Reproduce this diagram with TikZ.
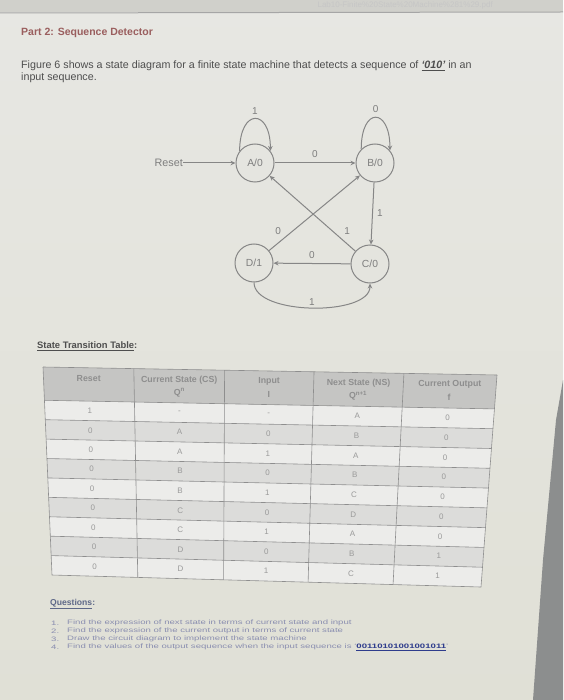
\documentclass[tikz,border=0pt]{standalone}
\usepackage{fontspec}
\setmainfont{Liberation Sans}
\usetikzlibrary{arrows.meta,calc}
\definecolor{paper}{HTML}{E7E7E3}
\definecolor{paperlow}{HTML}{E0E0D6}
\definecolor{stripgray}{HTML}{D0D0CB}
\definecolor{edgegray}{HTML}{8C8E8E}
\definecolor{titlered}{HTML}{9A5E5E}
\definecolor{bodytext}{HTML}{4E4E4E}
\definecolor{diagline}{HTML}{868686}
\definecolor{diagtext}{HTML}{7E7E7E}
\definecolor{headfill}{HTML}{C5C5C3}
\definecolor{headtext}{HTML}{8E8E8E}
\definecolor{rowwhite}{HTML}{ECECEA}
\definecolor{rowgray}{HTML}{DCDCDA}
\definecolor{gridline}{HTML}{8E8E8E}
\definecolor{celltext}{HTML}{9A9A9A}
\definecolor{qtext}{HTML}{8A8EB0}
\definecolor{qhead}{HTML}{5E6888}
\definecolor{qseq}{HTML}{2E3C8C}
\newcommand{\qstretch}[1]{\scalebox{1.2}[0.8]{#1}}
\begin{document}
\begin{tikzpicture}[x=1pt,y=-1pt,
  stnode/.style={circle,draw=diagline,line width=1pt,minimum size=38pt,inner sep=0pt,
    text=diagtext,font=\fontsize{10.3}{11}\selectfont},
  lbl/.style={text=diagtext,font=\fontsize{10}{11}\selectfont,inner sep=2pt},
  arr/.style={draw=diagline,line width=1pt,-{Stealth[length=5pt,width=4.5pt]}},
  gridl/.style={draw=gridline,line width=0.6pt},
  cell/.style={text=celltext,font=\fontsize{8}{9}\selectfont,inner sep=0pt},
  hcell/.style={text=headtext,font=\bfseries\fontsize{8.8}{9}\selectfont,inner sep=0pt},
  qitem/.style={text=qtext,font=\fontsize{8}{9}\selectfont,anchor=west,inner sep=0pt}]
\useasboundingbox (0,0) rectangle (563,700);
% paper
\shade[top color=paper,bottom color=paperlow] (0,0) rectangle (563,700);
\fill[stripgray] (0,0) rectangle (563,12);
\draw[color=gray!70,line width=1pt] (0,13) -- (563,12);
\node[anchor=east,text=gray!45,font=\fontsize{8}{9}\selectfont,inner sep=0pt] (urltext) at (493,5.5) {Lab10-Finite\%20State\%20Machine\%281\%29.pdf};
\fill[edgegray] (563,380) -- (556,420) -- (543,560) -- (533,700) -- (563,700) -- cycle;
% title and intro
\node[anchor=west,inner sep=0pt,text=titlered,font=\bfseries\fontsize{10.5}{12}\selectfont] (title) at (21,33) {Part 2: Sequence Detector};
\node[anchor=west,inner sep=0pt,text=bodytext,font=\fontsize{10.7}{12}\selectfont] (p1) at (21,66) {Figure 6 shows a state diagram for a finite state machine that detects a sequence of \textbf{\textit{\underline{‘010’}}} in an};
\node[anchor=west,inner sep=0pt,text=bodytext,font=\fontsize{10.7}{12}\selectfont] (p2) at (21,78) {input sequence.};
% state diagram
\node[stnode] (A) at (255,163) {A/0};
\node[stnode] (B) at (375,163) {B/0};
\node[stnode] (D) at (254,263) {D/1};
\node[stnode] (C) at (370,264) {C/0};
\node[lbl,anchor=east,inner sep=0pt,font=\fontsize{10.8}{12}\selectfont] (reset) at (183,163) {Reset};
\draw[arr] (reset) -- (A);
\draw[arr] (A.142) .. controls +(0,-43) and +(0,-43) .. (A.38) node[lbl,pos=0.5,above=2pt] {1};
\draw[arr] (B.135) .. controls +(0,-43) and +(0,-43) .. (B.40) node[lbl,pos=0.5,above=2pt] {0};
\draw[arr] (A) -- node[lbl,above=3pt] {0} (B);
\draw[arr] (B) -- node[lbl,right=2pt] {1} (C);
\draw[arr] (C) -- node[lbl,above=2pt] {0} (D);
\draw[arr] (C) -- node[lbl,pos=0.17,above right=1pt] {1} (A);
\draw[arr] (D) -- node[lbl,pos=0.17,above left=1pt] {0} (B);
\draw[arr] (D.south) .. controls +(0,33) and +(0,33) .. (C.south) node[lbl,pos=0.5,above=0pt] {1};
% table heading
\node[anchor=west,inner sep=0pt,text=bodytext,font=\bfseries\fontsize{9.4}{11}\selectfont] (ttitle) at (37,346) {\underline{State Transition Table}:};
% table geometry
\coordinate (TL) at (43,367);
\coordinate (TR) at (497,375);
\coordinate (BL) at (52,575);
\coordinate (BR) at (481,587);
\foreach \k in {0,...,10} {
  \pgfmathsetmacro\vv{\k==0 ? 0 : 0.16+(\k-1)*0.0933333}
  \coordinate (L\k) at ($(TL)!\vv!(BL)$);
  \coordinate (R\k) at ($(TR)!\vv!(BR)$);
}
\foreach \r in {1,...,9} {
  \pgfmathsetmacro\vv{0.16+(\r-0.5)*0.0933333}
  \coordinate (ML\r) at ($(TL)!\vv!(BL)$);
  \coordinate (MR\r) at ($(TR)!\vv!(BR)$);
}
\coordinate (HL1) at ($(TL)!0.05!(BL)$);
\coordinate (HR1) at ($(TR)!0.05!(BR)$);
\coordinate (HL2) at ($(TL)!0.11!(BL)$);
\coordinate (HR2) at ($(TR)!0.11!(BR)$);
\fill[rowwhite] (L1) -- (R1) -- (R10) -- (L10) -- cycle;
\fill[headfill] (L0) -- (R0) -- (R1) -- (L1) -- cycle;
\foreach \r/\s in {2/3,4/5,6/7,8/9}
  \fill[rowgray] (L\r) -- (R\r) -- (R\s) -- (L\s) -- cycle;
\foreach \k in {0,...,10}
  \draw[gridl] (L\k) -- (R\k);
\foreach \u in {0,0.2,0.4,0.597,0.795,1}
  \draw[gridl] ($(L0)!\u!(R0)$) -- ($(L10)!\u!(R10)$);
% header text
\node[hcell] (h1) at ($(HL1)!0.1!(HR1)$) {Reset};
\node[hcell] (h2a) at ($(HL1)!0.3!(HR1)$) {Current State (CS)};
\node[hcell] (h2b) at ($(HL2)!0.3!(HR2)$) {Q\textsuperscript{n}};
\node[hcell] (h3a) at ($(HL1)!0.4985!(HR1)$) {Input};
\node[hcell] (h3b) at ($(HL2)!0.4985!(HR2)$) {I};
\node[hcell] (h4a) at ($(HL1)!0.696!(HR1)$) {Next State (NS)};
\node[hcell] (h4b) at ($(HL2)!0.696!(HR2)$) {Q\textsuperscript{n+1}};
\node[hcell] (h5a) at ($(HL1)!0.8975!(HR1)$) {Current Output};
\node[hcell] (h5b) at ($(HL2)!0.8975!(HR2)$) {f};
% body text
\foreach [count=\r] \ca/\cb/\cc/\cd/\ce in {1/-/-/A/0,0/A/0/B/0,0/A/1/A/0,0/B/0/B/0,0/B/1/C/0,0/C/0/D/0,0/C/1/A/0,0/D/0/B/1,0/D/1/C/1} {
  \node[cell] (c\r-1) at ($(ML\r)!0.1!(MR\r)$) {\ca};
  \node[cell] (c\r-2) at ($(ML\r)!0.3!(MR\r)$) {\cb};
  \node[cell] (c\r-3) at ($(ML\r)!0.4985!(MR\r)$) {\cc};
  \node[cell] (c\r-4) at ($(ML\r)!0.696!(MR\r)$) {\cd};
  \node[cell] (c\r-5) at ($(ML\r)!0.8975!(MR\r)$) {\ce};
}
% questions
\node[anchor=west,inner sep=0pt,text=qhead,font=\bfseries\fontsize{8.6}{10}\selectfont] (qh) at (50,604) {\underline{Questions}:};
\node[qitem] (n1) at (51,623) {\qstretch{1.}};
\node[qitem] (q1) at (67,623) {\qstretch{Find the expression of next state in terms of current state and input}};
\node[qitem] (n2) at (51,631) {\qstretch{2.}};
\node[qitem] (q2) at (67,631) {\qstretch{Find the expression of the current output in terms of current state}};
\node[qitem] (n3) at (51,639) {\qstretch{3.}};
\node[qitem] (q3) at (67,639) {\qstretch{Draw the circuit diagram to implement the state machine}};
\node[qitem] (n4) at (51,647) {\qstretch{4.}};
\node[qitem] (q4) at (67,647) {\qstretch{Find the values of the output sequence when the input sequence is ‘\textcolor{qseq}{\textbf{\underline{00110101001001011}}}’}};
\end{tikzpicture}
\end{document}
